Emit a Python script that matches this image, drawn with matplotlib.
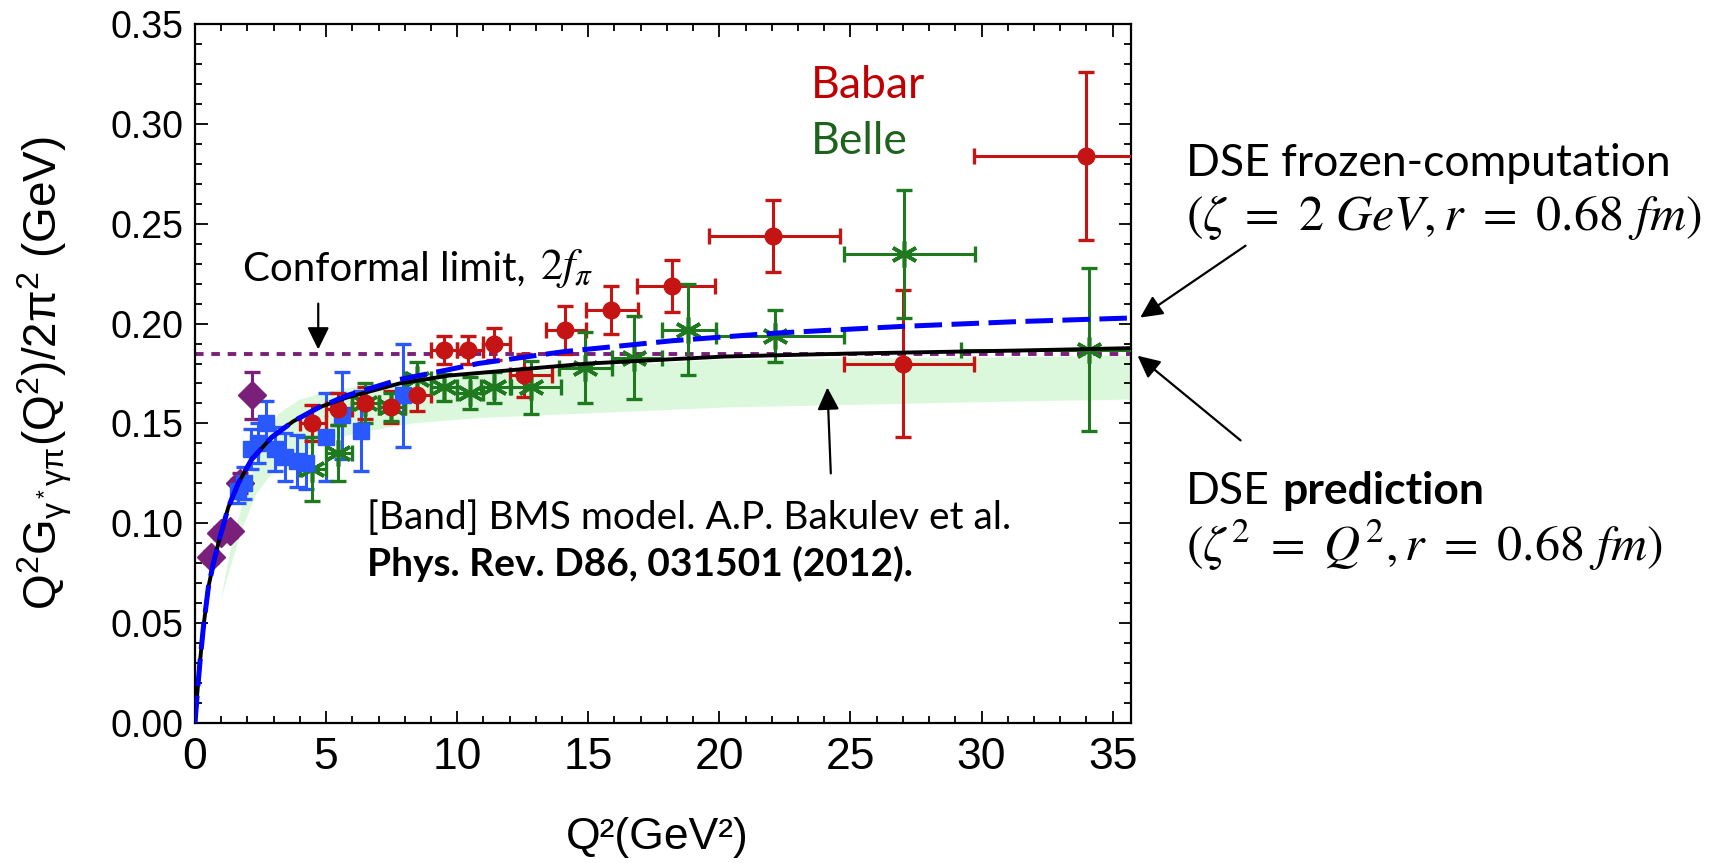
import matplotlib
matplotlib.use("Agg")
import matplotlib.pyplot as plt
from matplotlib.ticker import MultipleLocator, FormatStrFormatter

W, H = 1717, 863

plt.rcParams["mathtext.fontset"] = "custom"
plt.rcParams["mathtext.rm"] = "Liberation Sans"
plt.rcParams["mathtext.it"] = "Liberation Sans:italic"
plt.rcParams["mathtext.bf"] = "Liberation Sans:bold"

# --- curves ---
dse_q2 = [0.0, 0.1, 0.2, 0.32, 0.51, 0.70, 0.95, 1.27, 1.65, 2.16, 2.92, 3.74,
          4.72, 5.8, 7.8, 9.7, 15.0, 20.2, 25.0, 31.4, 35.7]
dse_pred = [0.0, 0.017, 0.032, 0.048, 0.068, 0.080, 0.093, 0.108, 0.120, 0.132,
            0.143, 0.151, 0.158, 0.163, 0.170, 0.174, 0.180, 0.1835, 0.185,
            0.1865, 0.1877]
frozen_q2 = [0.0, 0.1, 0.2, 0.32, 0.51, 0.70, 0.95, 1.27, 1.65, 2.16, 2.92, 3.74,
             4.72, 5.8, 7.8, 9.7, 10.8, 14.1, 18.2, 22.1, 27.0, 31.4, 35.7]
frozen_val = [0.0, 0.017, 0.032, 0.048, 0.068, 0.080, 0.093, 0.108, 0.120, 0.132,
              0.143, 0.151, 0.158, 0.164, 0.172, 0.177, 0.180, 0.186, 0.1914,
              0.1952, 0.1986, 0.201, 0.2028]
two_f_pi = 0.185

# BMS band edges
band_up_q2 = [1.0, 1.25, 1.5, 2.0, 2.5, 3.2, 4.0, 5.1, 7.0, 10.0, 15.0, 20.0, 30.0, 36.0]
band_up = [0.062, 0.080, 0.095, 0.118, 0.138, 0.155, 0.162, 0.166, 0.170, 0.174,
           0.178, 0.182, 0.183, 0.184]
band_lo_q2 = [1.0, 1.4, 1.83, 2.35, 3.0, 4.0, 5.0, 6.15, 8.3, 10.8, 15.0, 20.3, 31.4, 36.0]
band_lo = [0.062, 0.080, 0.098, 0.115, 0.126, 0.135, 0.141, 0.145, 0.150, 0.1527,
           0.155, 0.158, 0.161, 0.162]

# --- experimental points ---
cello_q2 = [0.62, 0.98, 1.32, 1.70, 2.17]
cello_val = [0.083, 0.095, 0.096, 0.120, 0.164]
cello_err = [0.003, 0.003, 0.003, 0.005, 0.012]

cleo_q2 = [1.64, 1.88, 2.13, 2.42, 2.72, 3.05, 3.43, 3.88, 4.25, 4.98, 5.62, 6.32, 7.95]
cleo_val = [0.116, 0.120, 0.137, 0.140, 0.150, 0.137, 0.133, 0.131, 0.130, 0.143,
            0.154, 0.146, 0.164]
cleo_err = [0.006, 0.008, 0.010, 0.010, 0.011, 0.011, 0.012, 0.013, 0.013, 0.022,
            0.022, 0.020, 0.026]

babar_q2 = [4.47, 5.47, 6.47, 7.47, 8.48, 9.48, 10.40, 11.40, 12.56, 14.13, 15.85,
            18.2, 22.06, 27.0, 34.0]
babar_lo = [4, 5, 6, 7, 8, 9, 10, 11, 12, 13.4, 14.9, 16.85, 19.6, 24.75, 29.7]
babar_hi = [5, 6, 7, 8, 9, 10, 11, 12, 13.6, 14.9, 16.9, 19.85, 24.6, 29.7, 40]
babar_val = [0.150, 0.157, 0.160, 0.158, 0.164, 0.187, 0.187, 0.190, 0.174, 0.197,
             0.207, 0.219, 0.244, 0.180, 0.284]
babar_err = [0.009, 0.008, 0.008, 0.008, 0.008, 0.007, 0.007, 0.008, 0.011, 0.012,
             0.012, 0.013, 0.018, 0.037, 0.042]

belle_q2 = [4.47, 5.47, 6.47, 7.47, 8.48, 9.48, 10.48, 11.40, 12.81, 14.88, 16.75,
            18.8, 22.13, 27.04, 34.1]
belle_lo = [4, 5, 6, 7, 8, 9, 10, 10.9, 12.05, 13.9, 15.9, 17.82, 19.86, 24.75, 29.2]
belle_hi = [5, 6, 7, 8, 9, 10, 11, 12, 13.95, 15.92, 17.82, 19.86, 24.75, 29.76, 40]
belle_val = [0.127, 0.135, 0.160, 0.158, 0.172, 0.168, 0.165, 0.168, 0.168, 0.178,
             0.183, 0.197, 0.194, 0.235, 0.187]
belle_err = [0.016, 0.014, 0.010, 0.007, 0.009, 0.007, 0.008, 0.008, 0.0135, 0.018,
             0.021, 0.023, 0.013, 0.032, 0.041]

RED = "#c41414"
GREEN = "#1f7a1f"
BLUE = "#2a58ff"
PURPLE = "#7a1f7a"
BAND = "#dcf8dc"


def px(x, y):
    return x / W, 1 - y / H


def bins_to_xerr(x, lo, hi):
    return [[xi - l for xi, l in zip(x, lo)], [h - xi for xi, h in zip(x, hi)]]


fig = plt.figure(figsize=(W / 100, H / 100), dpi=100)
ax = fig.add_axes([195 / W, 1 - 723 / H, 936 / W, 699 / H])

ax.fill(band_up_q2 + band_lo_q2[::-1], band_up + band_lo[::-1],
        color=BAND, lw=0, zorder=1)
ax.axhline(two_f_pi, color=PURPLE, lw=2.8, dashes=(2.2, 2.0), zorder=2)

ax.errorbar(cello_q2, cello_val, yerr=cello_err, fmt="D", ms=14, color=PURPLE,
            elinewidth=2.2, capsize=6, capthick=2.4, zorder=3)
ax.errorbar(cleo_q2, cleo_val, yerr=cleo_err, fmt="s", ms=11, color=BLUE,
            elinewidth=2.2, capsize=6, capthick=2.4, zorder=3)
ax.errorbar(babar_q2, babar_val, yerr=babar_err,
            xerr=bins_to_xerr(babar_q2, babar_lo, babar_hi), fmt="o", ms=12,
            color=RED, elinewidth=2.2, capsize=6, capthick=2.4, zorder=3)
ax.errorbar(belle_q2, belle_val, yerr=belle_err,
            xerr=bins_to_xerr(belle_q2, belle_lo, belle_hi), fmt="none",
            ecolor=GREEN, elinewidth=2.2, capsize=6, capthick=2.4, zorder=3)
ax.plot(belle_q2, belle_val, ls="none", marker=(6, 2, 0), ms=19, mew=2.6,
        color=GREEN, zorder=3)

ax.plot(dse_q2, dse_pred, color="black", lw=2.8, zorder=5)
ax.plot(frozen_q2, frozen_val, color="#0000ff", lw=3.6, dashes=(5.5, 1.9), zorder=6)

ax.set_xlim(0, 35.7)
ax.set_ylim(0, 0.35)
ax.xaxis.set_major_locator(MultipleLocator(5))
ax.xaxis.set_minor_locator(MultipleLocator(1))
ax.yaxis.set_major_locator(MultipleLocator(0.05))
ax.yaxis.set_minor_locator(MultipleLocator(0.01))
ax.yaxis.set_major_formatter(FormatStrFormatter("%.2f"))
ax.tick_params(which="both", direction="in", top=True, right=True, width=1.3)
ax.tick_params(which="major", length=9)
ax.tick_params(which="minor", length=5)
ax.tick_params(axis="y", pad=8)
ax.tick_params(axis="x", pad=10)
for s in ax.spines.values():
    s.set_linewidth(1.6)
for t in ax.get_yticklabels():
    t.set_fontfamily("Liberation Sans")
    t.set_fontsize(27)
for t in ax.get_xticklabels():
    t.set_fontfamily("Liberation Sans")
    t.set_fontsize(32)

ax.set_ylabel(r"$\mathrm{Q^2G_{\gamma^*\gamma\pi}(Q^2)/2\pi^2}$ (GeV)",
              fontsize=33, family="Liberation Sans", va="center")
ax.yaxis.set_label_coords((45 - 195) / 936, 0.5)
ax.set_xlabel("Q²(GeV²)", fontsize=32, family="Liberation Sans", va="center")
ax.xaxis.set_label_coords((657 - 195) / 936, (723 - 838) / 699)

# --- annotations ---
TXT = "Lato"
renderer = fig.canvas.get_renderer()


def text_after(prev, s, gap=10, **kw):
    bb = prev.get_window_extent(renderer=renderer)
    y = prev.get_position()[1]
    return fig.text((bb.x1 + gap) / W, y, s, va="center", **kw)


fig.text(*px(811, 85), "Babar", color="#c00000", fontsize=32, family=TXT, va="center")
fig.text(*px(811, 142), "Belle", color="#1e621e", fontsize=32, family=TXT, va="center")
conf = fig.text(*px(243, 269), "Conformal limit,", fontsize=29, family=TXT,
                va="center")
text_after(conf, r"$2f_{\pi}$", gap=14, fontsize=32, math_fontfamily="stix")
fig.text(*px(367, 518), "[Band] BMS model. A.P. Bakulev et al.", fontsize=28,
         family=TXT, va="center")
fig.text(*px(367, 564), "Phys. Rev. D86, 031501 (2012).", fontsize=28,
         family=TXT, weight="bold", va="center")
fig.text(*px(1186, 164), "DSE frozen-computation", fontsize=32, family=TXT, va="center")
fig.text(*px(1186, 218), r"$(\zeta\ =\ 2\ GeV,r\ =\ 0.68\ fm)$", fontsize=36,
         math_fontfamily="stix", va="center")
dse = fig.text(*px(1186, 491), "DSE", fontsize=32, family=TXT, va="center")
text_after(dse, "prediction", gap=12, fontsize=32, family=TXT, weight="bold")
fig.text(*px(1186, 545), r"$(\zeta^2\ =\ Q^2,r\ =\ 0.68\ fm)$", fontsize=36,
         math_fontfamily="stix", va="center")

arrow = dict(arrowstyle="-|>,head_length=0.45,head_width=0.22", color="black",
             lw=1.6, mutation_scale=30, shrinkA=0, shrinkB=0)
for tail, tip in [((4.7, 0.210), (4.7, 0.187)),
                  ((24.25, 0.125), (24.12, 0.168)),
                  ((40.07, 0.239), (36.05, 0.203)),
                  ((39.88, 0.1415), (35.95, 0.1839))]:
    ax.annotate("", xy=tip, xytext=tail, arrowprops=arrow, annotation_clip=False)

fig.savefig("out.png", dpi=100)
